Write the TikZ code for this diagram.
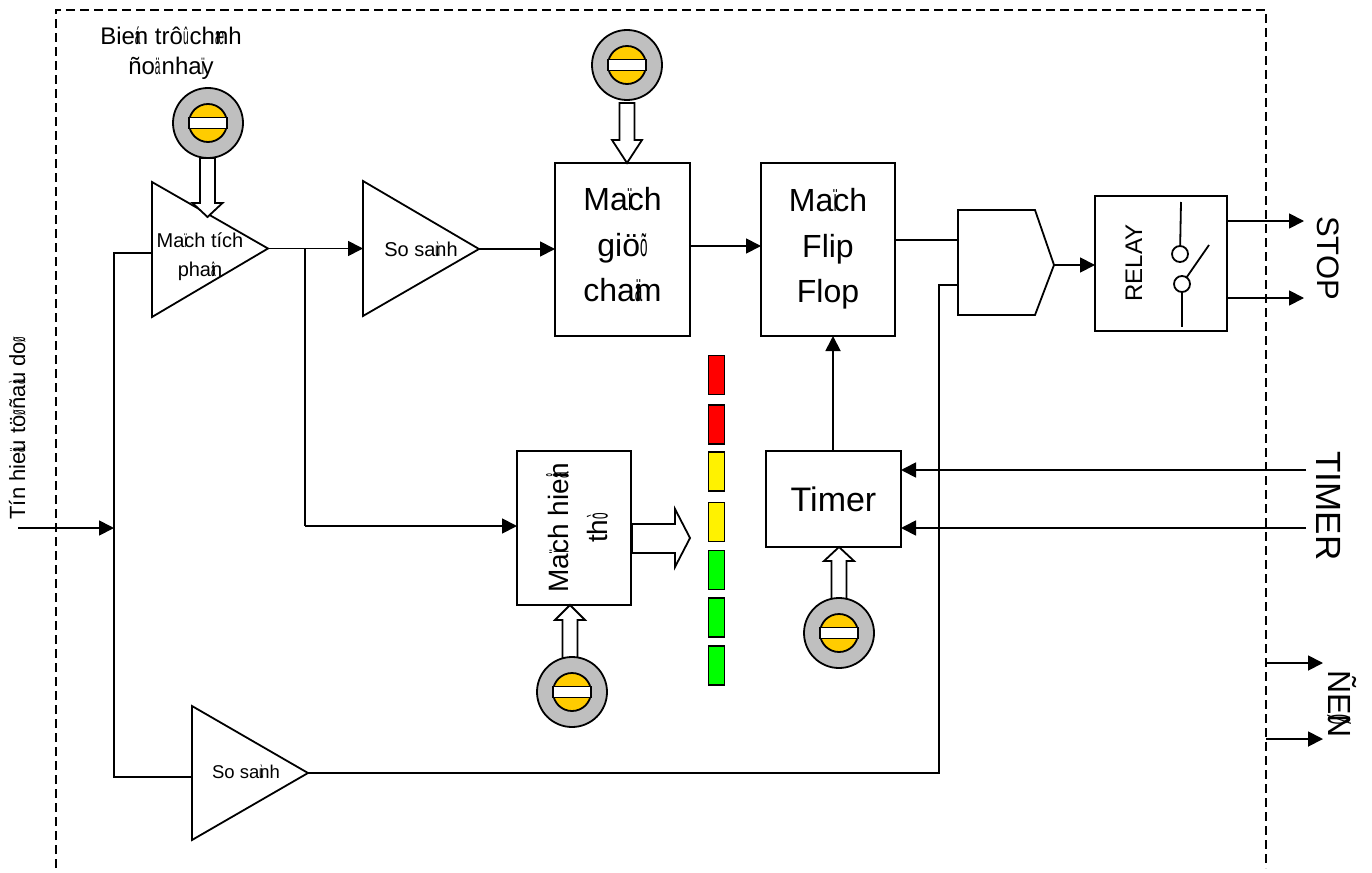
\documentclass[tikz,border=0pt]{standalone}
\usepackage{fontspec}
\setmainfont{Liberation Sans}
\usetikzlibrary{arrows.meta}
\newcommand{\ov}[1]{\rlap{\scalebox{.42}[1]{#1}}}
\newcommand{\sq}[1]{\scalebox{.42}[1]{#1}}
\newcommand{\fs}[2]{\fontsize{#1}{#2}\selectfont}
\newcommand{\knob}[3]{%
  \node[knobouter] (#1) at (#2,#3) {};
  \node[knobinner] (#1i) at (#2,#3) {};
  \node[knobbar] (#1b) at (#2,#3) {};}
\newcommand{\varrow}[4]{% x, tail y, head base y, tip y
  \draw[blockarrow] (#1-7.5,#2) -- (#1-7.5,#3) -- (#1-15,#3) -- (#1,#4) -- (#1+15,#3) -- (#1+7.5,#3) -- (#1+7.5,#2) -- cycle;}
\definecolor{knobyellow}{HTML}{FFCC00}
\tikzset{
  x=1pt,y=-1pt,
  every node/.style={inner sep=0pt,outer sep=0pt,text=black},
  line/.style={line width=1.8pt,line join=miter},
  conn/.style={line width=1.8pt,-{Triangle[length=15pt,width=15pt]}},
  frame/.style={line width=2.2pt,dash pattern=on 9pt off 5pt},
  boxnode/.style={draw=black,line width=1.8pt,fill=white},
  boxtext/.style={align=center,font=\fs{32}{45.5}},
  knobouter/.style={circle,draw=black,line width=1.8pt,fill=black!25,minimum size=70pt},
  knobinner/.style={circle,draw=black,line width=1.8pt,fill=knobyellow,minimum size=38pt},
  knobbar/.style={rectangle,draw=black,line width=1.8pt,fill=white,minimum width=38pt,minimum height=11pt},
  blockarrow/.style={draw=black,line width=1.8pt,fill=white,line join=miter},
  ledbar/.style={rectangle,draw=black,line width=1.8pt,minimum width=16pt,minimum height=39pt},
  tri/.style={draw=black,line width=1.8pt,fill=white,line join=miter},
}
\begin{document}
\begin{tikzpicture}
\useasboundingbox (0,0) rectangle (1372,872);
\fill[white] (0,0) rectangle (1372,872);
% frame
\draw[frame] (56,868) -- (56,10) -- (1266,10) -- (1266,868);
% boxes
\node[boxnode,minimum width=135pt,minimum height=173pt] (hold) at (622.5,249.5) {};
\node[boxtext] (holdtext) at (622.5,245) {Ma\ov{ï}ch\\gi\"o\sq{õ}\\cha\ov{ä}m};
\node[boxnode,minimum width=134pt,minimum height=173pt] (ff) at (828,249.5) {};
\node[boxtext] (fftext) at (828,249) {Ma\ov{ï}ch\\Flip\\Flop};
\node[boxnode,minimum width=114pt,minimum height=154pt] (disp) at (574,528) {};
\node[rotate=90,align=center,font=\fs{28}{39}] (disptext) at (577,528) {Ma\ov{ï}ch hie\ov{å}n\\th\sq{ò}};
\node[boxnode,minimum width=135pt,minimum height=96pt,font=\fs{34}{40}] (timer) at (833.5,499) {Timer};
\node[boxnode,minimum width=132pt,minimum height=135pt] (relay) at (1161,263.5) {};
\node[rotate=90,anchor=base,font=\fs{24}{28}] (relaytext) at (1142,263) {RELAY};
% triangles
\coordinate (t1a) at (152,182); \coordinate (t1b) at (152,317); \coordinate (t1o) at (268,248.5);
\coordinate (t2a) at (363,181); \coordinate (t2b) at (363,316); \coordinate (t2o) at (479,249);
\coordinate (t3a) at (192,706); \coordinate (t3b) at (192,840); \coordinate (t3o) at (308,773);
\draw[tri] (t1a) -- (t1o) -- (t1b) -- cycle;
\draw[tri] (t2a) -- (t2o) -- (t2b) -- cycle;
\draw[tri] (t3a) -- (t3o) -- (t3b) -- cycle;
\node[font=\fs{20}{29},anchor=base] (t1text) at (200,247) {Ma\ov{ï}ch tích};
\node[font=\fs{20}{29},anchor=base] (t1text2) at (200,276) {pha\ov{â}n};
\node[font=\fs{20}{24},anchor=base] (t2text) at (421,256) {So sa\ov{ù}nh};
\node[font=\fs{18.5}{24},anchor=base] (t3text) at (246,778) {So sa\ov{ù}nh};
% gate
\coordinate (g1) at (958,210); \coordinate (g2) at (1035,210); \coordinate (gout) at (1054,265);
\coordinate (g3) at (1035,315); \coordinate (g4) at (958,315);
\draw[tri] (g1) -- (g2) -- (gout) -- (g3) -- (g4) -- cycle;
% junctions and free ends
\coordinate (inS) at (18,528); \coordinate (busA) at (114,528);
\coordinate (busT) at (114,253); \coordinate (busB) at (114,777);
\coordinate (t1in) at (152,253); \coordinate (t3in) at (192,777);
\coordinate (j1) at (305,248.5); \coordinate (j2) at (305,526);
\coordinate (t2in) at (363,248.5);
\coordinate (gin1) at (958,240); \coordinate (gin2) at (958,285);
\coordinate (c1) at (939,773); \coordinate (c2) at (939,285);
% connectors
\draw[conn] (inS) -- (busA);
\draw[line] (t1in) -- (busT) -- (busB) -- (t3in);
\draw[line] (t1o) -- (j1);
\draw[conn] (j1) -- (t2in);
\draw[line] (j1) -- (j2);
\draw[conn] (j2) -- (disp.west |- j2);
\draw[conn] (t2o) -- (hold.west |- t2o);
\draw[conn] (hold.east |- 0,246) -- (ff.west |- 0,246);
\draw[conn] (timer.north -| 833,0) -- (ff.south -| 833,0);
\draw[line] (ff.east |- gin1) -- (gin1);
\draw[line] (t3o) -- (c1) -- (c2) -- (gin2);
\draw[conn] (gout) -- (relay.west |- gout);
\coordinate (o1) at (1304,221); \coordinate (o2) at (1304,298);
\draw[conn] (relay.east |- o1) -- (o1);
\draw[conn] (relay.east |- o2) -- (o2);
\coordinate (ti1) at (1306,470); \coordinate (ti2) at (1306,528);
\draw[conn] (ti1) -- (timer.east |- ti1);
\draw[conn] (ti2) -- (timer.east |- ti2);
\coordinate (n1a) at (1266,663); \coordinate (n1b) at (1323,663);
\coordinate (n2a) at (1266,739); \coordinate (n2b) at (1323,739);
\draw[conn] (n1a) -- (n1b);
\draw[conn] (n2a) -- (n2b);
% relay contact
\node[circle,draw=black,line width=1.8pt,fill=white,minimum size=16pt] (ct1) at (1180,254) {};
\node[circle,draw=black,line width=1.8pt,fill=white,minimum size=16pt] (ct2) at (1182,284) {};
\coordinate (ct1t) at (1181,202); \coordinate (ct2b) at (1182,327); \coordinate (ctsw) at (1209,245);
\draw[line] (ct1t) -- (ct1);
\draw[line] (ct2) -- (ct2b);
\draw[line] (ct2) -- (ctsw);
% block arrows
\varrow{207.5}{158}{203}{217}
\varrow{627}{103}{140}{163}
\varrow{570}{658}{620}{605}
\varrow{839}{600}{561}{547}
\draw[blockarrow] (632,524) -- (675,524) -- (675,509) -- (690,538) -- (675,567) -- (675,553) -- (632,553) -- cycle;
% knobs
\knob{k1}{208}{123}
\knob{k2}{627}{65}
\knob{k3}{572}{692}
\knob{k4}{839}{633}
% LEDs
\node[ledbar,fill=red] (l1) at (716.5,375) {};
\node[ledbar,fill=red] (l2) at (716.5,424.5) {};
\node[ledbar,fill=yellow] (l3) at (716.5,471.5) {};
\node[ledbar,fill=yellow] (l4) at (716.5,522) {};
\node[ledbar,fill=green] (l5) at (716.5,570) {};
\node[ledbar,fill=green] (l6) at (716.5,617.5) {};
\node[ledbar,fill=green] (l7) at (716.5,665.5) {};
% labels
\node[font=\fs{24}{30},anchor=base] (lab1) at (171,45) {Bie\ov{á}n trô\ov{û}\ ch\ov{æ}nh};
\node[font=\fs{24}{30},anchor=base] (lab2) at (171,75) {ño\ov{ä}\ nha\ov{ï}y};
\node[rotate=90,anchor=base,font=\fs{22}{24}] (lab3) at (25,428) {Tín hie\ov{ä}u tö\ov{ø}\ ña\ov{à}u do\sq{ø}};
\node[rotate=-90,anchor=base,font=\fs{31}{36}] (stop) at (1317,258) {STOP};
\node[rotate=-90,anchor=base,font=\fs{35}{36}] (timerlab) at (1316,506) {TIMER};
\node[rotate=-90,anchor=base,font=\fs{32}{36}] (neon) at (1328,704) {ÑE\ov{Ø}N};
\end{tikzpicture}
\end{document}
